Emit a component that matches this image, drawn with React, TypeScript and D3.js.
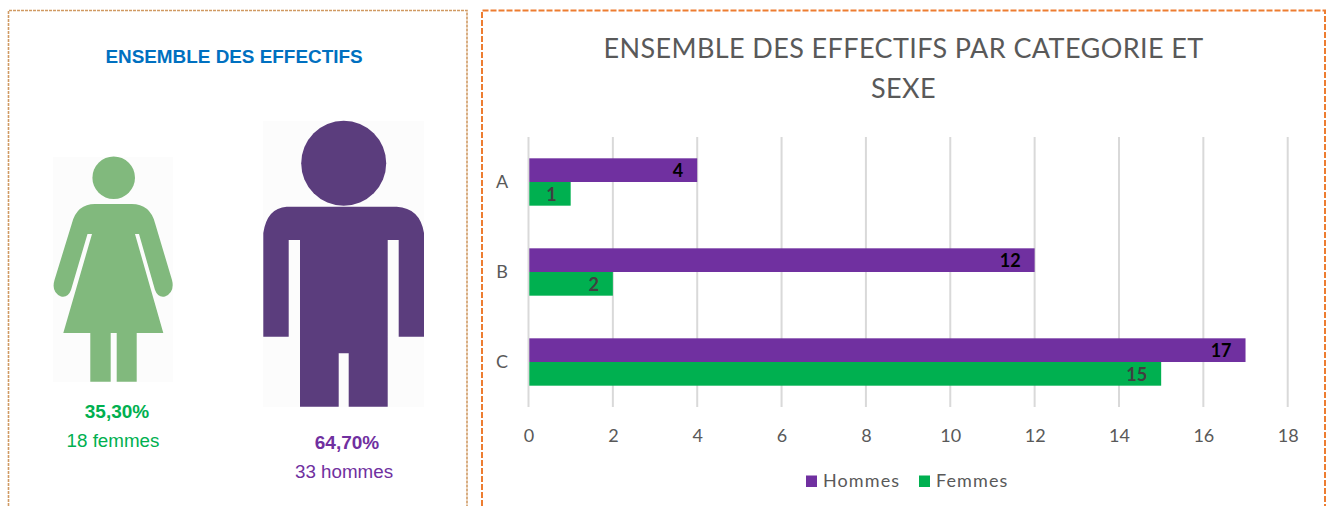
import React from 'react';
import * as d3 from 'd3';

const categories = ['A', 'B', 'C'];
const seriesNames = ['Hommes', 'Femmes'];
const hommes = [4, 12, 17];
const femmes = [1, 2, 15];
const xTicks = [0, 2, 4, 6, 8, 10, 12, 14, 16, 18];
const titleLines = ['ENSEMBLE DES EFFECTIFS PAR CATEGORIE ET', 'SEXE'];

const PURPLE = '#7030a0';
const GREEN = '#00b050';
const CHART_FONT = 'Lato, sans-serif';
const SIDE_FONT = '"Liberation Sans", Arial, sans-serif';

const WOMAN_BODY =
  'M95 204 L131.7 204 Q150 204 155 223 L172 280 Q175 292 165 296.5 Q158 298 155 290 L139 234 L135 234 L163.3 333 L136.7 333 L136.7 381.7 L116.7 381.7 L116.7 333 L110.7 333 L110.7 381.7 L90.3 381.7 L90.3 333 L63.3 333 L92 234 L87.5 234 L71 290 Q68 298 61 296.5 Q51 292 54.5 280 L72 223 Q77 204 95 204 Z';
const MAN_BODY =
  'M286.7 206.7 L396.7 206.7 Q420 208 424 233 L424 336.7 L398.7 336.7 L398.7 240 L387.7 240 L387.7 406.7 L348.7 406.7 L348.7 353.3 L338.7 353.3 L338.7 406.7 L300 406.7 L300 240 L288.7 240 L288.7 336.7 L263.3 336.7 L263.3 233 Q267 208 286.7 206.7 Z';

export default function App() {
  const x = d3.scaleLinear().domain([0, 18]).range([528.5, 1287.7]);
  const y = d3
    .scaleBand<string>()
    .domain(categories)
    .range([137, 407])
    .paddingInner(0.4737)
    .paddingOuter(0.2368);
  const ySeries = d3.scaleBand<string>().domain(seriesNames).range([0, y.bandwidth()]);
  const color = d3.scaleOrdinal<string, string>().domain(seriesNames).range([PURPLE, GREEN]);
  const labelColor = d3.scaleOrdinal<string, string>().domain(seriesNames).range(['#000000', '#404040']);
  const series: [string, number[]][] = [
    ['Hommes', hommes],
    ['Femmes', femmes],
  ];

  return (
    <svg
      width={1330}
      height={506}
      style={{ position: 'absolute', left: 0, top: 0, display: 'block', background: '#fff' }}
    >
      {/* Left panel */}
      <path
        d="M8.5 506 L8.5 10.5 L467 10.5 L467 506"
        fill="none"
        stroke="#d09a63"
        strokeWidth={1.6}
        strokeDasharray="3 1"
      />
      <text x={234} y={62.5} textAnchor="middle" fontFamily={SIDE_FONT} fontWeight="bold" fontSize={18.9} fill="#0070c0">
        ENSEMBLE DES EFFECTIFS
      </text>

      <rect x={53} y={157} width={120} height={225} fill="#fcfcfc" />
      <circle cx={113.7} cy={177.7} r={21.3} fill="#81b97d" />
      <path d={WOMAN_BODY} fill="#81b97d" />

      <rect x={263} y={121} width={161} height={286} fill="#fcfcfc" />
      <circle cx={343.7} cy={163.3} r={42.5} fill="#5b3d7d" />
      <path d={MAN_BODY} fill="#5b3d7d" />

      <text x={117} y={418} textAnchor="middle" fontFamily={SIDE_FONT} fontWeight="bold" fontSize={19} fill={GREEN}>
        35,30%
      </text>
      <text x={113} y={447} textAnchor="middle" fontFamily={SIDE_FONT} fontSize={18.8} fill={GREEN}>
        18 femmes
      </text>
      <text x={347} y={449} textAnchor="middle" fontFamily={SIDE_FONT} fontWeight="bold" fontSize={19} fill={PURPLE}>
        64,70%
      </text>
      <text x={344} y={478} textAnchor="middle" fontFamily={SIDE_FONT} fontSize={18.8} fill={PURPLE}>
        33 hommes
      </text>

      {/* Right panel */}
      <path
        d="M482 506 L482 10.5 L1325 10.5 L1325 506"
        fill="none"
        stroke="#ed7d31"
        strokeWidth={2}
        strokeDasharray="6 2"
      />
      {titleLines.map((line, i) => (
        <text
          key={line}
          x={903.5}
          y={58 + i * 39.5}
          textAnchor="middle"
          fontFamily={CHART_FONT}
          fontSize={27}
          letterSpacing={0.4}
          fill="#595959"
        >
          {line}
        </text>
      ))}

      {xTicks.map((t) => (
        <g key={t}>
          <line x1={x(t)} x2={x(t)} y1={137} y2={407} stroke="#d9d9d9" strokeWidth={2} />
          <text
            x={x(t) + 0.5}
            y={442}
            textAnchor="middle"
            fontFamily={CHART_FONT}
            fontSize={18}
            fill="#595959"
          >
            {t}
          </text>
        </g>
      ))}

      {categories.map((c, i) => (
        <g key={c}>
          <text
            x={502}
            y={(y(c) as number) + y.bandwidth() / 2 + 6}
            textAnchor="middle"
            fontFamily={CHART_FONT}
            fontSize={18}
            fill="#595959"
          >
            {c}
          </text>
          {series.map(([name, values]) => {
            const top = (y(c) as number) + (ySeries(name) as number);
            return (
              <g key={name}>
                <rect
                  x={x(0) + 0.8}
                  y={top}
                  width={x(values[i]) - x(0) - 0.8}
                  height={ySeries.bandwidth()}
                  fill={color(name)}
                />
                <text
                  x={x(values[i]) - 14}
                  y={top + ySeries.bandwidth() / 2 + 7}
                  textAnchor="end"
                  fontFamily={CHART_FONT}
                  fontWeight="bold"
                  fontSize={18}
                  fill={labelColor(name)}
                >
                  {values[i]}
                </text>
              </g>
            );
          })}
        </g>
      ))}

      {/* Legend */}
      {series.map(([name], i) => {
        const lx = i === 0 ? 806 : 919;
        return (
          <g key={name}>
            <rect x={lx} y={475.5} width={11} height={11.5} fill={color(name)} />
            <text x={lx + 17} y={487} fontFamily={CHART_FONT} fontSize={18} letterSpacing={1.1} fill="#595959">
              {name}
            </text>
          </g>
        );
      })}
    </svg>
  );
}
